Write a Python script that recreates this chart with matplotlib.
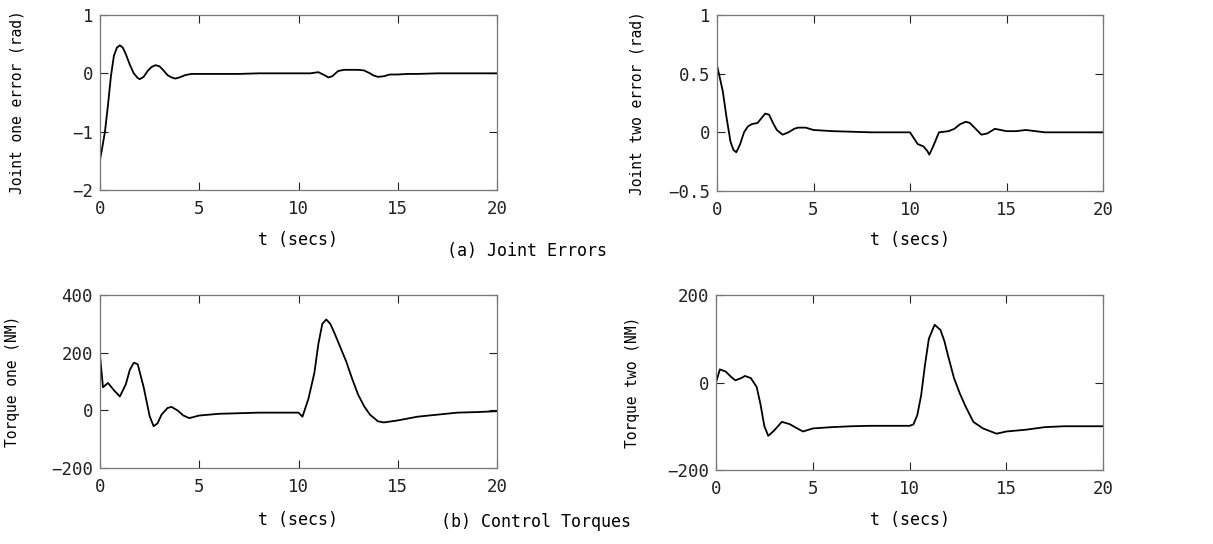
import numpy as np
import matplotlib
matplotlib.use("Agg")
import matplotlib.pyplot as plt

# Joint one error (rad)
t_e1 = [0, 0.1, 0.25, 0.4, 0.55, 0.7, 0.85, 1.0, 1.15, 1.3, 1.5, 1.7, 1.9, 2.0, 2.2, 2.4, 2.6, 2.8, 3.0, 3.2,
        3.4, 3.6, 3.8, 4.0, 4.3, 4.6, 5, 6, 7, 8, 9, 10, 10.6, 11.0, 11.3, 11.5, 11.7, 12.0, 12.3, 13.0, 13.3,
        13.6, 13.8, 14.0, 14.3, 14.6, 15, 15.5, 16, 17, 18, 19, 20]
e1 = [-1.48, -1.3, -1.0, -0.55, -0.05, 0.3, 0.44, 0.48, 0.44, 0.33, 0.15, 0.0, -0.08, -0.1, -0.06, 0.04, 0.11,
      0.14, 0.12, 0.05, -0.03, -0.07, -0.09, -0.07, -0.03, -0.01, -0.01, -0.01, -0.01, 0.0, 0.0, 0.0, 0.0,
      0.02, -0.03, -0.07, -0.05, 0.04, 0.06, 0.06, 0.05, 0.0, -0.04, -0.06, -0.05, -0.02, -0.02, -0.01,
      -0.01, 0.0, 0.0, 0.0, 0.0]

# Joint two error (rad)
t_e2 = [0, 0.1, 0.3, 0.5, 0.7, 0.85, 1.0, 1.2, 1.4, 1.6, 1.8, 2.1, 2.3, 2.5, 2.7, 2.9, 3.1, 3.4, 3.7, 4.0,
        4.2, 4.6, 5, 6, 7, 8, 9, 10, 10.2, 10.4, 10.7, 10.9, 11.0, 11.2, 11.5, 12.0, 12.3, 12.6, 12.9,
        13.1, 13.4, 13.7, 14.0, 14.4, 15, 15.5, 16, 16.5, 17, 18, 19, 20]
e2 = [0.57, 0.5, 0.35, 0.12, -0.08, -0.15, -0.17, -0.1, 0.0, 0.05, 0.07, 0.08, 0.12, 0.16, 0.15, 0.08, 0.02,
      -0.02, 0.0, 0.03, 0.04, 0.04, 0.02, 0.01, 0.005, 0.0, 0.0, 0.0, -0.05, -0.1, -0.12, -0.16, -0.19,
      -0.12, 0.0, 0.01, 0.03, 0.07, 0.09, 0.08, 0.03, -0.02, -0.01, 0.03, 0.01, 0.01, 0.02, 0.01, 0.0, 0.0,
      0.0, 0.0]

# Torque one (NM)
t_q1 = [0, 0.15, 0.4, 0.7, 1.0, 1.3, 1.5, 1.7, 1.9, 2.2, 2.5, 2.7, 2.9, 3.1, 3.4, 3.6, 3.9, 4.2, 4.5, 5, 6, 8,
        10, 10.2, 10.5, 10.8, 11.0, 11.2, 11.4, 11.6, 11.8, 12.1, 12.4, 12.7, 13.0, 13.3, 13.6, 14.0, 14.3,
        15, 16, 17, 18, 19, 20]
q1 = [190, 80, 95, 70, 48, 90, 140, 165, 160, 80, -20, -55, -45, -15, 8, 12, 0, -18, -27, -18, -12, -8, -8,
      -22, 40, 130, 230, 300, 315, 300, 270, 220, 170, 110, 55, 15, -15, -38, -42, -35, -22, -15, -8, -6, -3]

# Torque two (NM)
t_q2 = [0, 0.2, 0.5, 0.8, 1.0, 1.3, 1.5, 1.8, 2.1, 2.3, 2.5, 2.7, 3.0, 3.4, 3.8, 4.2, 4.5, 5, 6, 7, 8, 9, 10,
        10.2, 10.4, 10.6, 10.8, 11.0, 11.3, 11.6, 11.8, 12.0, 12.3, 12.6, 12.9, 13.3, 13.8, 14.5, 15, 16, 17,
        18, 20]
q2 = [0, 30, 25, 12, 5, 10, 15, 10, -10, -50, -100, -122, -110, -90, -95, -105, -112, -105, -102, -100, -99,
      -99, -99, -96, -75, -30, 40, 100, 132, 120, 95, 60, 10, -25, -55, -90, -105, -117, -112, -108, -102,
      -100, -100]

X_TICKS = [0, 5, 10, 15, 20]

panels = [
    # rect in px (left, top, right, bottom), ylabel x in px, data, ylabel, ylim, yticks, yticklabels
    ((100, 15, 497, 190), 17, t_e1, e1, "Joint one error (rad)", (-2, 1), [-2, -1, 0, 1],
     ["\u22122", "\u22121", "0", "1"]),
    ((717, 15, 1103, 191), 637, t_e2, e2, "Joint two error (rad)", (-0.5, 1), [-0.5, 0, 0.5, 1],
     ["\u22120.5", "0", "0.5", "1"]),
    ((100, 295, 497, 468), 13, t_q1, q1, "Torque one (NM)", (-200, 400), [-200, 0, 200, 400],
     ["\u2212200", "0", "200", "400"]),
    ((716, 295, 1103, 470), 632, t_q2, q2, "Torque two (NM)", (-200, 200), [-200, 0, 200],
     ["\u2212200", "0", "200"]),
]
XLABEL_Y = {15: 240, 295: 520}

W, H = 1213, 544
plt.rcParams["font.family"] = ["DejaVu Sans Mono", "DejaVu Sans"]
fig = plt.figure(figsize=(W / 100, H / 100), dpi=100)

for (l, t, r, b), ylx, xs, ys, ylab, ylim, yt, ytl in panels:
    ax = fig.add_axes([l / W, 1 - b / H, (r - l) / W, (b - t) / H])
    ax.plot(xs, ys, color="black", lw=1.3)
    ax.set_xlim(0, 20)
    ax.set_ylim(*ylim)
    ax.set_xticks(X_TICKS)
    ax.set_xticklabels([str(v) for v in X_TICKS])
    ax.set_yticks(yt)
    ax.set_yticklabels(ytl)
    ax.tick_params(direction="in", length=6, width=0.8, top=True, right=True, labelsize=12.5,
                   colors="#222222")
    ax.tick_params(axis="x", pad=7)
    ax.tick_params(axis="y", pad=5)
    for s in ax.spines.values():
        s.set_color("#777777")
        s.set_linewidth(0.9)
    ax.set_ylabel(ylab, fontsize=10.5)
    ax.yaxis.set_label_coords((ylx - l) / (r - l), 0.5)
    ax.yaxis.label.set_va("center")
    ax.set_xlabel("t (secs)", fontsize=12)
    ax.xaxis.set_label_coords(0.5, (b - XLABEL_Y[t]) / (b - t))
    ax.xaxis.label.set_va("center")

fig.text(527 / W, 1 - 251 / H, "(a) Joint Errors", ha="center", va="center", fontsize=12)
fig.text(536 / W, 1 - 522 / H, "(b) Control Torques", ha="center", va="center", fontsize=12)

fig.savefig("out.png", dpi=100)
